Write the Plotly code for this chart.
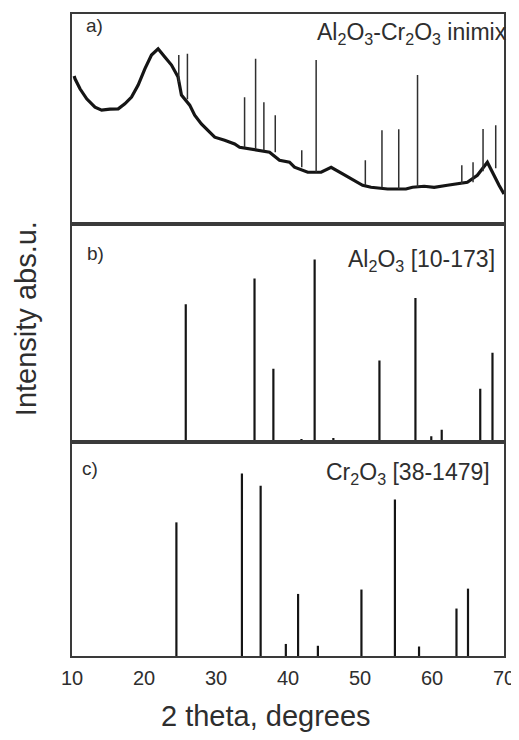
import plotly.graph_objects as go
from plotly.subplots import make_subplots

# ---- panel a: measured Al2O3-Cr2O3 inimix pattern (background curve) ----
bg_2theta = [10.3, 10.42, 11.11, 12.04, 13.19, 14.12, 15.27, 16.42, 17.34, 18.27, 19.19,
             20.12, 21.04, 21.96, 22.89, 23.82, 24.73, 25.20, 26.35, 27.04, 27.97,
             28.89, 29.82, 31.2, 32.59, 33.28, 34.66, 36.05, 37.44, 38.82, 40.21,
             40.90, 42.74, 44.60, 45.99, 47.59, 49.21, 50.36, 51.53, 53.83, 56.38,
             57.29, 58.91, 60.30, 62.14, 63.53, 64.91, 66.30, 67.69, 69.31, 70.0]
bg_counts = [1480, 1453, 1353, 1253, 1170, 1140, 1150, 1153, 1203, 1270, 1390,
             1553, 1690, 1753, 1670, 1590, 1470, 1290, 1190, 1090, 1003,
             940, 870, 840, 803, 770, 753, 740, 720, 640, 620,
             570, 520, 520, 570, 503, 440, 390, 370, 353, 353,
             370, 380, 370, 390, 403, 420, 490, 620, 390, 303]

# sharp reflections in panel a: position, foot level, top level
pk_2theta = [24.83, 26.03, 33.97, 35.50, 36.65, 38.23, 41.91, 43.91, 50.74,
             53.05, 55.38, 57.99, 64.14, 65.70, 67.09, 68.85]
pk_foot = [1420, 1250, 770, 753, 740, 720, 570, 520, 390,
           370, 353, 370, 403, 420, 530, 560]
pk_top = [1690, 1703, 1270, 1653, 1220, 1090, 740, 1640, 640,
          940, 950, 1490, 590, 620, 953, 990]

# ---- panel b: Al2O3 reference [10-173] ----
al_2theta = [25.8, 35.35, 37.97, 41.87, 43.7, 46.3, 52.7, 57.7, 59.9, 61.35, 66.7, 68.4]
al_int = [75.5, 89.6, 40.0, 1.5, 100.0, 2.0, 44.5, 78.9, 3.0, 6.6, 29.1, 48.8]

# ---- panel c: Cr2O3 reference [38-1479] ----
cr_2theta = [24.5, 33.6, 36.2, 39.7, 41.4, 44.15, 50.2, 54.85, 58.2, 63.4, 65.0]
cr_int = [73.2, 100.0, 93.2, 6.6, 34.0, 5.6, 36.4, 85.7, 5.2, 26.0, 36.9]

x_ticks = [10, 20, 30, 40, 50, 60, 70]

FONT = "Liberation Sans, Arial, sans-serif"
INK = "#151515"
TXT = "#2e2e2e"


def sticks(xs, y0s, y1s):
    X, Y = [], []
    for x, a, b in zip(xs, y0s, y1s):
        X += [x, x, None]
        Y += [a, b, None]
    return X, Y


fig = make_subplots(rows=3, cols=1, shared_xaxes=True, vertical_spacing=0)

fig.add_trace(go.Scatter(x=bg_2theta, y=bg_counts, mode="lines",
                         line=dict(color=INK, width=3.2), hoverinfo="skip"), row=1, col=1)
px, py = sticks(pk_2theta, pk_foot, pk_top)
fig.add_trace(go.Scatter(x=px, y=py, mode="lines",
                         line=dict(color="#303030", width=1.5), hoverinfo="skip"), row=1, col=1)

bx, by = sticks(al_2theta, [0] * len(al_2theta), al_int)
fig.add_trace(go.Scatter(x=bx, y=by, mode="lines",
                         line=dict(color=INK, width=2.2), hoverinfo="skip"), row=2, col=1)

cx, cy = sticks(cr_2theta, [0] * len(cr_2theta), cr_int)
fig.add_trace(go.Scatter(x=cx, y=cy, mode="lines",
                         line=dict(color=INK, width=2.2), hoverinfo="skip"), row=3, col=1)

# page is shown with an 8px body margin: figure placed at (8,8)
OFF = 8
W, H = 519 - OFF, 740 - 2 * OFF
TOP, BOT = 12, 656          # plot area in screen pixels
L, R = 72, 505
PH = BOT - TOP
PW = R - L


def py_(ypix):
    return (BOT - ypix) / PH


def px_(xpix):
    return (xpix - L) / PW


dom_a = [py_(223), 1.0]
dom_b = [py_(441), py_(223)]
dom_c = [0.0, py_(441)]

axis_common = dict(showline=True, mirror=True, linecolor="#3a3a3a", linewidth=1.6,
                   showgrid=False, zeroline=False, ticks="")

fig.update_xaxes(range=[10, 70], **axis_common)
fig.update_xaxes(showticklabels=False, row=1, col=1)
fig.update_xaxes(showticklabels=False, row=2, col=1)
fig.update_xaxes(showticklabels=True, tickmode="array", tickvals=x_ticks,
                 ticktext=[str(t) for t in x_ticks], ticklabelstandoff=3,
                 tickfont=dict(family=FONT, size=20, color=TXT), row=3, col=1)

fig.update_yaxes(showticklabels=False, **axis_common)
fig.update_yaxes(range=[0, 2100], domain=dom_a, row=1, col=1)
fig.update_yaxes(range=[0, 119.3], domain=dom_b, row=2, col=1)
fig.update_yaxes(range=[0, 117.4], domain=dom_c, row=3, col=1)

ann = []
# panel letters
for lab, xp, yp in [("a)", 84, 11), ("b)", 85, 240), ("c)", 80, 455)]:
    ann.append(dict(text=lab, x=px_(xp), y=py_(yp), xref="paper", yref="paper",
                    xanchor="left", yanchor="top", showarrow=False,
                    font=dict(family=FONT, size=19, color=TXT)))
# panel titles
for lab, xp, yp in [("Al<sub>2</sub>O<sub>3</sub>-Cr<sub>2</sub>O<sub>3</sub> inimix", 510, 15),
                    ("Al<sub>2</sub>O<sub>3</sub> [10-173]", 498, 243),
                    ("Cr<sub>2</sub>O<sub>3</sub> [38-1479]", 493, 456)]:
    ann.append(dict(text=lab, x=px_(xp), y=py_(yp), xref="paper", yref="paper",
                    xanchor="right", yanchor="top", showarrow=False,
                    font=dict(family=FONT, size=23, color=TXT)))
# axis titles
ann.append(dict(text="2 theta, degrees", x=px_(266), y=py_(716), xref="paper", yref="paper",
                xanchor="center", yanchor="middle", showarrow=False,
                font=dict(family=FONT, size=29, color=TXT)))
ann.append(dict(text="Intensity abs.u.", x=px_(26), y=py_(318), xref="paper", yref="paper",
                xanchor="center", yanchor="middle", showarrow=False, textangle=-90,
                font=dict(family=FONT, size=29, color=TXT)))

fig.update_layout(width=W, height=H,
                  margin=dict(l=L - OFF, r=W - (R - OFF), t=TOP - OFF, b=H - (BOT - OFF)),
                  paper_bgcolor="white", plot_bgcolor="white",
                  showlegend=False, annotations=ann)

fig.write_html("out.html")
